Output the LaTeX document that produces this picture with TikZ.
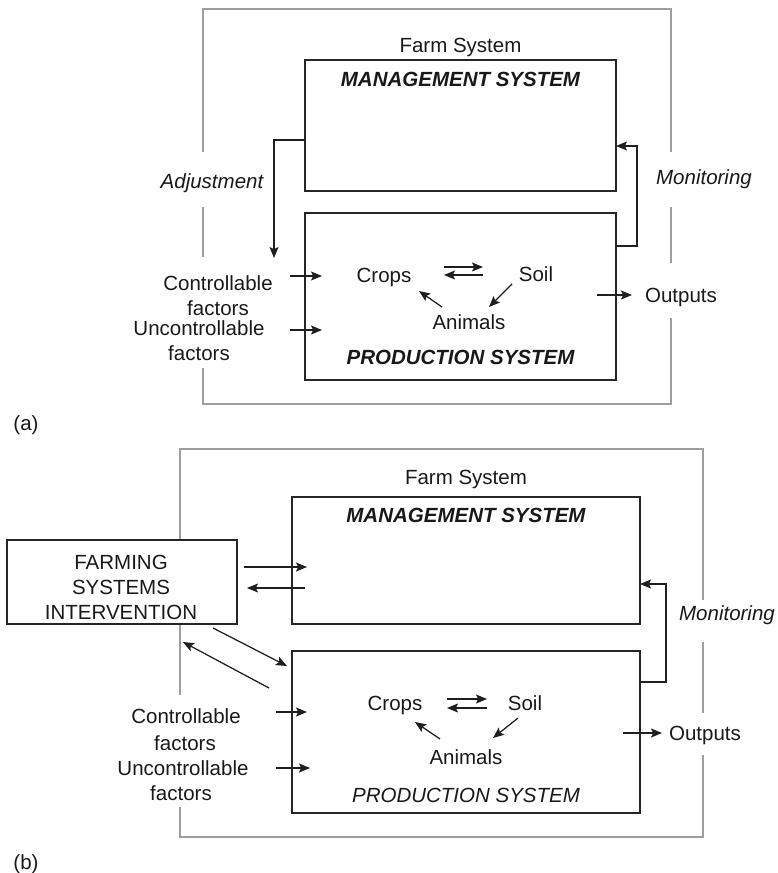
\documentclass[tikz,border=0pt]{standalone}
\usepackage{fontspec}
\setmainfont{Liberation Sans}
\usetikzlibrary{arrows.meta}

\begin{document}
\begin{tikzpicture}[
  x=1pt, y=-1pt,
  every node/.style={font=\fontsize{20.5}{25}\selectfont, inner sep=0pt, outer sep=0pt},
  sysbox/.style={draw=black!85, line width=1.5pt, fill=white},
  frame/.style={draw=black!38, line width=1.2pt},
  arr/.style={-{Stealth[length=11pt,width=9pt,inset=2.2pt]}, line width=1.25pt, draw=black!88},
  lbl/.style={anchor=base, text=black!90},
  title/.style={lbl, font=\fontsize{20.5}{25}\selectfont\bfseries\itshape},
  slant/.style={lbl, font=\fontsize{20.5}{25}\selectfont\itshape},
]
\useasboundingbox (0,0) rectangle (778,873);

% ---------------- (a) ----------------
% outer farm-system frame, broken where the side labels sit
\draw[frame] (203,152) -- (203,9) -- (671,9) -- (671,152);
\draw[frame] (203,207) -- (203,257);
\draw[frame] (671,207) -- (671,263);
\draw[frame] (203,368) -- (203,404) -- (671,404) -- (671,318);

\node[sysbox, minimum width=311pt, minimum height=131pt] (mgA) at (460.5,125.5) {};
\node[sysbox, minimum width=311pt, minimum height=167pt] (prA) at (460.5,296.5) {};

\node[lbl] (farmA) at (460.5,52) {Farm System};
\node[title] (mgtA) at (460.5,86) {MANAGEMENT SYSTEM};
\node[title] (prtA) at (460.5,364.5) {PRODUCTION SYSTEM};

\node[slant] (adjA) at (212,188) {Adjustment};
\node[slant] (monA) at (704,184) {Monitoring};

\node[lbl] (ctlA) at (218,290) {Controllable};
\node[lbl] (ctfA) at (218,315) {factors};
\node[lbl] (uncA) at (199,335) {Uncontrollable};
\node[lbl] (unfA) at (199,360) {factors};

\node[lbl] (cropA) at (384,282) {Crops};
\node[lbl] (soilA) at (536,281) {Soil};
\node[lbl] (animA) at (469,329) {Animals};
\node[lbl] (outA) at (681,302) {Outputs};

\node[lbl] (capA) at (26,430) {(a)};

% connector ends
\coordinate (adjEndA) at (274,258);
\coordinate (ctlSA) at (290,276);  \coordinate (ctlEA) at (322,276);
\coordinate (uncSA) at (290,330);  \coordinate (uncEA) at (322,330);
\coordinate (csSA) at (444,267);   \coordinate (csEA) at (483,267);
\coordinate (scSA) at (483,275);   \coordinate (scEA) at (444,275);
\coordinate (acSA) at (442,307);   \coordinate (acEA) at (419,291);
\coordinate (saSA) at (512,284);   \coordinate (saEA) at (489,307);
\coordinate (outSA) at (597,295);  \coordinate (outEA) at (632,295);

\draw[arr] ([yshift=-14.5pt]mgA.west) -| (adjEndA);
\draw[arr] ([yshift=50.5pt]prA.east) -- ++(21,0) |- ([yshift=-20.5pt]mgA.east);
\draw[arr] (ctlSA) -- (ctlEA);
\draw[arr] (uncSA) -- (uncEA);
\draw[arr] (csSA) -- (csEA);
\draw[arr] (scSA) -- (scEA);
\draw[arr] (acSA) -- (acEA);
\draw[arr] (saSA) -- (saEA);
\draw[arr] (outSA) -- (outEA);

% ---------------- (b) ----------------
\draw[frame] (180,545) -- (180,449) -- (703,449) -- (703,600);
\draw[frame] (180,624) -- (180,695);
\draw[frame] (703,642) -- (703,713);
\draw[frame] (180,807) -- (180,837) -- (703,837) -- (703,755);

\node[sysbox, minimum width=348pt, minimum height=127pt] (mgB) at (466,560.5) {};
\node[sysbox, minimum width=348pt, minimum height=162pt] (prB) at (466,732) {};
\node[sysbox, minimum width=230pt, minimum height=84pt] (fsi) at (122,582) {};

\node[align=center, text=black!90] (fsiT) at (121,587) {FARMING\\SYSTEMS\\INTERVENTION};

\node[lbl] (farmB) at (466,484) {Farm System};
\node[title] (mgtB) at (466,522) {MANAGEMENT SYSTEM};
\node[slant] (prtB) at (466,802) {PRODUCTION SYSTEM};

\node[slant] (monB) at (727,620) {Monitoring};

\node[lbl] (ctlB) at (186,723) {Controllable};
\node[lbl] (ctfB) at (185,750) {factors};
\node[lbl] (uncB) at (183,775) {Uncontrollable};
\node[lbl] (unfB) at (181,800) {factors};

\node[lbl] (cropB) at (395,710) {Crops};
\node[lbl] (soilB) at (525,710) {Soil};
\node[lbl] (animB) at (466,764) {Animals};
\node[lbl] (outB) at (705,740) {Outputs};

\node[lbl] (capB) at (26,869) {(b)};

\coordinate (fmSB) at (244,567);   \coordinate (fmEB) at (307,567);
\coordinate (mfSB) at (305,588);   \coordinate (mfEB) at (247,588);
\coordinate (fpSB) at (213,628);   \coordinate (fpEB) at (287,666);
\coordinate (pfSB) at (269,688);   \coordinate (pfEB) at (183,642);
\coordinate (ctlSB) at (276,712);  \coordinate (ctlEB) at (307,712);
\coordinate (uncSB) at (276,768);  \coordinate (uncEB) at (310,768);
\coordinate (csSB) at (447,699);   \coordinate (csEB) at (487,699);
\coordinate (scSB) at (487,708);   \coordinate (scEB) at (447,708);
\coordinate (acSB) at (440,739);   \coordinate (acEB) at (415,722);
\coordinate (saSB) at (518,718);   \coordinate (saEB) at (493,738);
\coordinate (outSB) at (623,733);  \coordinate (outEB) at (662,733);

\draw[arr] ([yshift=50pt]prB.east) -- ++(26,0) |- ([yshift=-23.5pt]mgB.east);
\draw[arr] (fmSB) -- (fmEB);
\draw[arr] (mfSB) -- (mfEB);
\draw[arr] (fpSB) -- (fpEB);
\draw[arr] (pfSB) -- (pfEB);
\draw[arr] (ctlSB) -- (ctlEB);
\draw[arr] (uncSB) -- (uncEB);
\draw[arr] (csSB) -- (csEB);
\draw[arr] (scSB) -- (scEB);
\draw[arr] (acSB) -- (acEB);
\draw[arr] (saSB) -- (saEB);
\draw[arr] (outSB) -- (outEB);
\end{tikzpicture}
\end{document}
